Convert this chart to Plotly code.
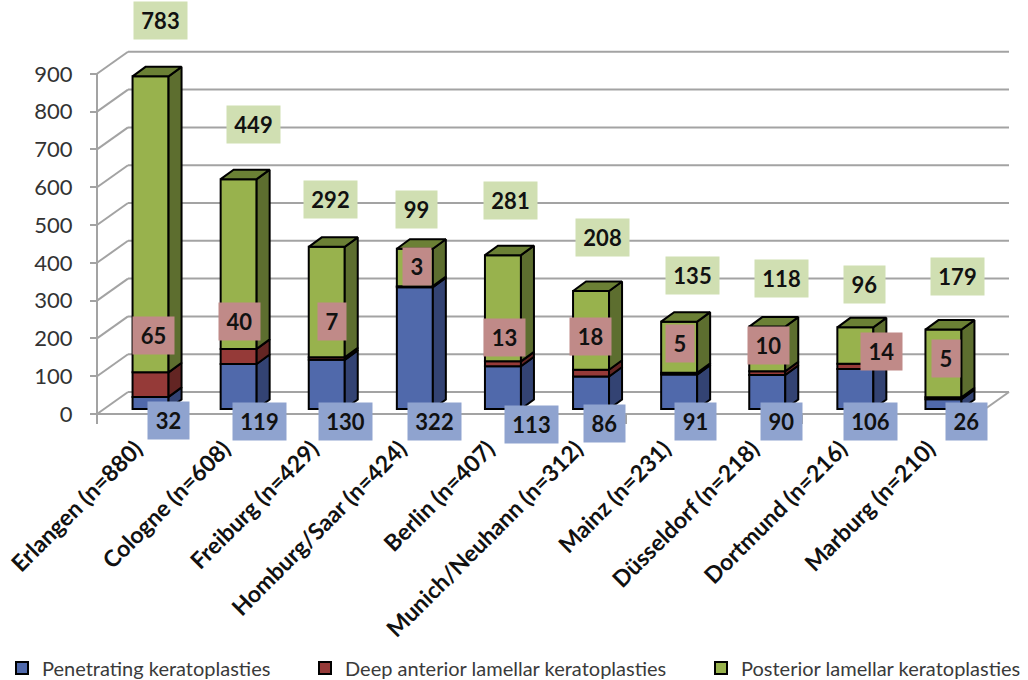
import plotly.graph_objects as go

# Transplant counts per centre
categories = ["Erlangen (n=880)", "Cologne (n=608)", "Freiburg (n=429)", "Homburg/Saar (n=424)",
              "Berlin (n=407)", "Munich/Neuhann (n=312)", "Mainz (n=231)", "Düsseldorf (n=218)",
              "Dortmund (n=216)", "Marburg (n=210)"]
penetrating = [32, 119, 130, 322, 113, 86, 91, 90, 106, 26]
deep_anterior = [65, 40, 7, 3, 13, 18, 5, 10, 14, 5]
posterior = [783, 449, 292, 99, 281, 208, 135, 118, 96, 179]
y_ticks = [0, 100, 200, 300, 400, 500, 600, 700, 800, 900]

# Hand-placed centres of the value boxes, in pixels
penetrating_box_px = [(168, 420), (259, 421), (345, 421), (434, 421), (531, 424),
                      (604, 423), (695, 421), (781, 421), (870, 421), (966, 421)]
deep_box_px = [(153, 335), (239, 321), (332, 321), (417, 267), (504, 337),
               (590, 336), (680, 343), (768, 345), (881, 351), (946, 358)]
posterior_box_px = [(160, 20), (253, 124), (330, 199), (416, 209), (510, 200),
                    (602, 237), (692, 275), (781, 278), (864, 284), (957, 276)]

W, H = 1028, 680
X0_PX, CAT_PX = 97.0, 88.1        # left wall position and category pitch
Y0_PX, UNIT_PX = 414.0, 0.378     # zero line and pixels per count

# Oblique projection offsets, in data units
WALL_DX, WALL_DY = 31 / CAT_PX, 22 / UNIT_PX
BAR_SHIFT_X, BAR_SHIFT_Y = 9.5 / CAT_PX, 5 / UNIT_PX
BAR_W = 36 / CAT_PX
DEPTH_DX, DEPTH_DY = 13 / CAT_PX, 9.5 / UNIT_PX

FONT = "Lato"
GRID = "#a3a3a3"
series = [
    ("Penetrating keratoplasties", penetrating, "#5069ab", "#334373", "#3f5488", "#8fa3cf", penetrating_box_px, "legend"),
    ("Deep anterior lamellar keratoplasties", deep_anterior, "#953a38", "#632523", "#7a2e2c", "#c08a88", deep_box_px, "legend2"),
    ("Posterior lamellar keratoplasties", posterior, "#98b24d", "#5d6e2f", "#6b8035", "#d0dfb2", posterior_box_px, "legend3"),
]

fig = go.Figure()
n = len(categories)
cumulative = [0] * n

# Back walls and floor sit beneath the bars
shapes = []


def wall_line(x0, y0, x1, y1):
    shapes.append(dict(type="line", xref="x", yref="y", x0=x0, y0=y0, x1=x1, y1=y1,
                       layer="below", line=dict(color=GRID, width=2)))


left, right = -0.5, n - 0.5
for v in y_ticks:
    wall_line(left, v, left + WALL_DX, v + WALL_DY)
    wall_line(left + WALL_DX, v + WALL_DY, right + WALL_DX, v + WALL_DY)
wall_line(left, 0, right, 0)
wall_line(right, 0, right + WALL_DX, WALL_DY)
wall_line(left, 0, left, y_ticks[-1])

annotations = []
for s_idx, (name, values, front, side, top, box, box_px, legend_id) in enumerate(series):
    xs = [i + BAR_SHIFT_X for i in range(n)]
    bases = [c + BAR_SHIFT_Y for c in cumulative]
    fig.add_trace(go.Bar(x=xs, y=values, base=bases, width=BAR_W, name=name, legend=legend_id,
                         marker=dict(color=front, line=dict(color="black", width=2))))

    # Right-hand side face of each stacked segment
    px_side, py_side = [], []
    for i in range(n):
        xr = xs[i] + BAR_W / 2
        y0, y1 = bases[i], bases[i] + values[i]
        px_side += [xr, xr + DEPTH_DX, xr + DEPTH_DX, xr, xr, None]
        py_side += [y0, y0 + DEPTH_DY, y1 + DEPTH_DY, y1, y0, None]
    fig.add_trace(go.Scatter(x=px_side, y=py_side, mode="lines", fill="toself", fillcolor=side,
                             line=dict(color="black", width=2), showlegend=False, hoverinfo="skip"))

    # Only the uppermost segment shows a top face
    if s_idx == len(series) - 1:
        px_top, py_top = [], []
        for i in range(n):
            xl, xr = xs[i] - BAR_W / 2, xs[i] + BAR_W / 2
            yt = bases[i] + values[i]
            px_top += [xl, xl + DEPTH_DX, xr + DEPTH_DX, xr, xl, None]
            py_top += [yt, yt + DEPTH_DY, yt + DEPTH_DY, yt, yt, None]
        fig.add_trace(go.Scatter(x=px_top, y=py_top, mode="lines", fill="toself", fillcolor=top,
                                 line=dict(color="black", width=2), showlegend=False, hoverinfo="skip"))

    for v, (cx, cy) in zip(values, box_px):
        digits = len(str(v))
        annotations.append(dict(
            x=cx / W, y=1 - cy / H, xref="paper", yref="paper", text=f"<b>{v}</b>", showarrow=False,
            xanchor="center", yanchor="middle", align="center", valign="middle",
            width={1: 28, 2: 41, 3: 53}[digits], height=37, borderpad=0, bgcolor=box,
            font=dict(family=FONT, size=22, color="#111111")))
    cumulative = [c + v for c, v in zip(cumulative, values)]

x_range = [-0.5 - X0_PX / CAT_PX, -0.5 + (W - X0_PX) / CAT_PX]
y_range = [(Y0_PX - H) / UNIT_PX, Y0_PX / UNIT_PX]

legend_common = dict(orientation="v", yanchor="middle", y=1 - 668 / H, xanchor="left",
                     bgcolor="rgba(0,0,0,0)", font=dict(family=FONT, size=20, color="#3a3a3a"))

fig.update_layout(
    width=W, height=H, autosize=False,
    # The plot fills the page; the legends must not push its margins
    margin=dict(l=0, r=0, t=0, b=0, autoexpand=False),
    paper_bgcolor="white", plot_bgcolor="white", barmode="overlay",
    shapes=shapes, annotations=annotations,
    legend=dict(x=2 / W, **legend_common),
    legend2=dict(x=305 / W, **legend_common),
    legend3=dict(x=701 / W, **legend_common),
    xaxis=dict(range=x_range, anchor="free", position=1 - Y0_PX / H,
               tickmode="array", tickvals=[i - 0.06 for i in range(n)],
               ticktext=[f"<b>{c}</b>" for c in categories], tickangle=-45, ticks="",
               ticklabelstandoff=16, showgrid=False, zeroline=False, showline=False,
               tickfont=dict(family=FONT, size=23, color="#111111"),
               minor=dict(tickmode="array", tickvals=[i - 0.5 for i in range(n + 1)], ticks="outside",
                          ticklen=9, tickwidth=2, tickcolor=GRID, showgrid=False)),
    yaxis=dict(range=y_range, anchor="free", position=X0_PX / W,
               tickmode="array", tickvals=y_ticks, ticks="outside", ticklen=7, tickwidth=2,
               tickcolor=GRID, ticklabelstandoff=13, showgrid=False, zeroline=False, showline=False,
               tickfont=dict(family=FONT, size=22, color="#333333")),
)

fig.write_html("out.html")
